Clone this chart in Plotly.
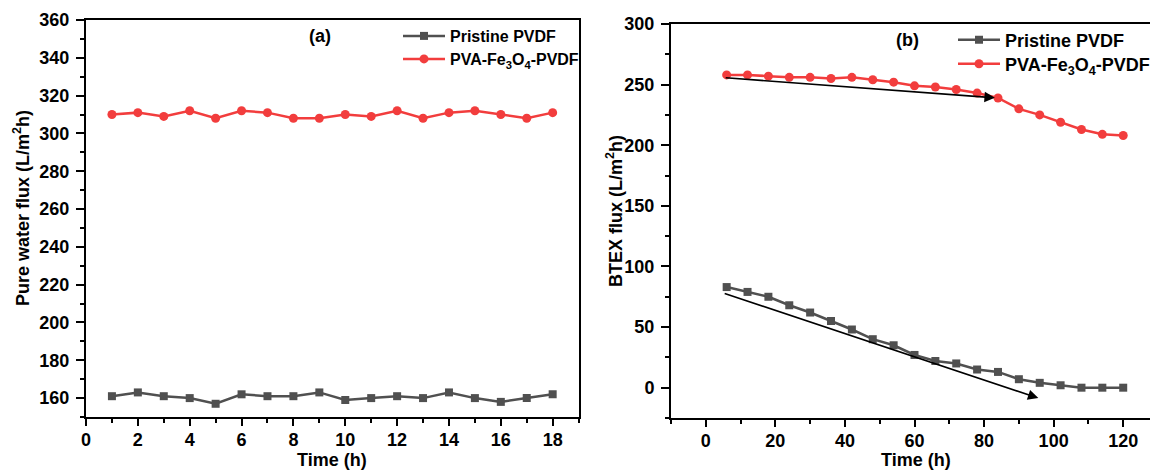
import plotly.graph_objects as go

# ---- data -------------------------------------------------------------
time_a = list(range(1, 19))
pristine_a = [161, 163, 161, 160, 157, 162, 161, 161, 163, 159, 160, 161, 160, 163, 160, 158, 160, 162]
pva_a = [310, 311, 309, 312, 308, 312, 311, 308, 308, 310, 309, 312, 308, 311, 312, 310, 308, 311]

time_b = [6, 12, 18, 24, 30, 36, 42, 48, 54, 60, 66, 72, 78, 84, 90, 96, 102, 108, 114, 120]
pristine_b = [83, 79, 75, 68, 62, 55, 48, 40, 35, 27, 22, 20, 15, 13, 7, 4, 2, 0, 0, 0]
pva_b = [258, 258, 257, 256, 256, 255, 256, 254, 252, 249, 248, 246, 243, 239, 230, 225, 219, 213, 209, 208]

# trend arrows in panel (b): (tail x, tail y, head x, head y)
trend_pva = (5.3, 255.7, 83.1, 239.1)
trend_pristine = (5.0, 78.1, 95.6, -8.6)

name_pristine = "Pristine PVDF"
name_pva = "PVA-Fe<sub>3</sub>O<sub>4</sub>-PVDF"

GRAY = "#505050"
RED = "#F23D3D"
FONT = "Liberation Sans, Arial, sans-serif"

W, H = 1160, 470


def px(x):
    return x / W


def py(y):
    return (H - y) / H


fig = go.Figure()

series = [
    (time_a, pristine_a, name_pristine, GRAY, "square", 8, "x", "y", "legend"),
    (time_a, pva_a, name_pva, RED, "circle", 9, "x", "y", "legend2"),
    (time_b, pristine_b, name_pristine, GRAY, "square", 8, "x2", "y2", "legend3"),
    (time_b, pva_b, name_pva, RED, "circle", 9, "x2", "y2", "legend4"),
]
for xs, ys, name, color, symbol, size, xa, ya, leg in series:
    fig.add_trace(go.Scatter(x=xs, y=ys, name=name, mode="lines+markers",
                             line=dict(color=color, width=2.5),
                             marker=dict(symbol=symbol, size=size, color=color),
                             xaxis=xa, yaxis=ya, legend=leg))

tickfont = dict(family=FONT, size=18, color="black", weight="bold")


def axis_style(domain, rng, dtick, minor_dtick, anchor, ticklen, standoff):
    return dict(domain=domain, range=rng, dtick=dtick, tick0=0,
                showline=True, linecolor="black", linewidth=2, mirror=True,
                ticks="outside", ticklen=ticklen, tickwidth=2, tickcolor="black",
                minor=dict(ticks="outside", ticklen=4, tickwidth=2, tickcolor="black",
                           dtick=minor_dtick, tick0=0),
                showgrid=False, zeroline=False, tickfont=tickfont,
                ticklabelstandoff=standoff,
                anchor=anchor, automargin=False, fixedrange=True)


def legend_at(x, y, size):
    return dict(x=px(x), y=py(y), xanchor="left", yanchor="middle",
                bgcolor="rgba(0,0,0,0)", borderwidth=0, itemwidth=42,
                font=dict(family=FONT, size=size, color="black", weight="bold"),
                itemclick=False, itemdoubleclick=False)


fig.update_layout(
    width=W, height=H,
    margin=dict(l=0, r=0, t=0, b=0),
    paper_bgcolor="white", plot_bgcolor="white",
    font=dict(family=FONT, color="black"),
    xaxis=axis_style([px(86), px(578.6)], [0, 19], 2, 1, "y", 7, -2),
    yaxis=axis_style([py(417), py(20)], [150, 360], 20, 10, "x", 8, 3),
    xaxis2=axis_style([px(671), px(1158)], [-10, 130], 20, 10, "y2", 7, -2),
    yaxis2=axis_style([py(418), py(24)], [-25, 300], 50, 25, "x2", 8, 3),
    legend=legend_at(398, 36, 16),
    legend2=legend_at(398, 59, 16),
    legend3=legend_at(953, 40, 18),
    legend4=legend_at(953, 64, 18),
    showlegend=True,
)

bold18 = dict(family=FONT, size=18, color="black", weight="bold")
labels = [
    ("(a)", 320, 36, 0),
    ("(b)", 907, 40, 0),
    ("Time (h)", 332, 460, 0),
    ("Time (h)", 916, 460, 0),
    ("Pure water flux (L/m<sup>2</sup>h)", 21, 208, -90),
    ("BTEX flux (L/m<sup>2</sup>h)", 614, 211, -90),
]
for text, x, y, ang in labels:
    fig.add_annotation(text=text, x=px(x), y=py(y), xref="paper", yref="paper",
                       xanchor="center", yanchor="middle", showarrow=False,
                       textangle=ang, font=bold18)

for tx, ty, hx, hy in (trend_pva, trend_pristine):
    fig.add_annotation(x=hx, y=hy, ax=tx, ay=ty, xref="x2", yref="y2",
                       axref="x2", ayref="y2", text="", showarrow=True,
                       arrowhead=2, arrowsize=1.3, arrowwidth=1.6, arrowcolor="black")

fig.write_html("out.html",
               post_script="document.documentElement.style.overflow='hidden';"
                           "document.body.style.overflow='hidden';")
